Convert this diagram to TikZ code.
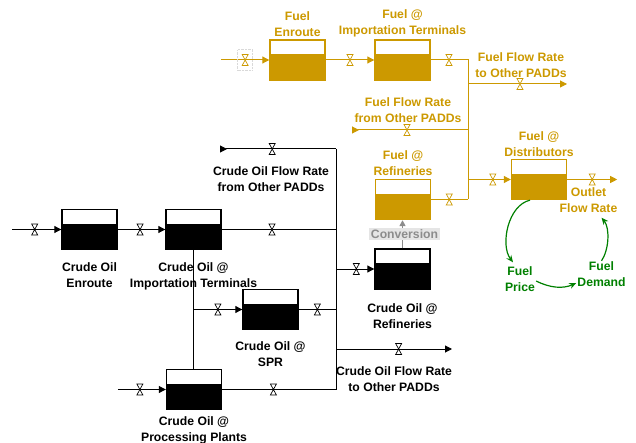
\documentclass[tikz,border=0pt]{standalone}
\usepackage{fontspec}
\setmainfont{Liberation Sans}
\usetikzlibrary{arrows.meta,positioning}
\definecolor{fuel}{HTML}{CC9900}
\definecolor{crude}{HTML}{000000}
\definecolor{loop}{HTML}{008000}
\definecolor{conv}{HTML}{8C8C8C}
\tikzset{
  stock/.style={draw=#1,fill=#1,line width=1.4pt,minimum width=55pt,minimum height=40pt,inner sep=0pt,
                path picture={\fill[white] (path picture bounding box.north west) rectangle
                  ([yshift=-14.3pt]path picture bounding box.north east);}},
  stock/.default=crude,
  flow/.style={draw=#1,line width=1pt,-{Triangle[length=7pt,width=7pt]}},
  flow/.default=crude,
  pipe/.style={draw=#1,line width=1pt},
  pipe/.default=crude,
  inflow/.style={draw=#1,line width=1pt,{Triangle[length=7pt,width=7pt,reversed]}-},
  inflow/.default=crude,
  lbl/.style={text=#1,align=center,inner sep=1pt},
  lbl/.default=crude,
  link/.style={draw=loop,line width=1.2pt,-{Stealth[length=7pt,width=6pt]}},
  valve/.pic={\filldraw[fill=white,line width=0.7pt,line join=miter] (-3,-5.5) -- (3,-5.5) -- (-3,5.5) -- (3,5.5) -- cycle;},
}
\begin{document}
\begin{tikzpicture}[x=1pt,y=-1pt,font=\bfseries\fontsize{12.2}{16}\selectfont,
   cloudbox/.style={draw=black!15,densely dotted,minimum width=15pt,minimum height=21pt,inner sep=0pt},
   convlbl/.style={fill=black!10,text=conv,inner sep=1.5pt,xshift=2pt}]
  \useasboundingbox (0,0) rectangle (636,443);
  \node[stock=fuel] (fen) at (297.5,60) {};
  \node[stock=fuel] (fimp) at (402.5,60) {};
  \node[stock=fuel] (fref) at (403,199.5) {};
  \node[stock=fuel] (fdis) at (539,179.5) {};
  \node[stock] (cen) at (89.5,229.5) {};
  \node[stock] (cimp) at (193.5,229.5) {};
  \node[stock] (cspr) at (270.5,309.5) {};
  \node[stock] (cref) at (402.5,269) {};
  \node[stock] (cpp) at (194,389.5) {};
  \node[lbl=fuel,above=1pt of fen] (fenl) {Fuel\\Enroute};
  \node[lbl=fuel,above=1pt of fimp] (fimpl) {Fuel @\\Importation Terminals};
  \node[lbl=fuel,above=2pt of fref] (frefl) {Fuel @\\Refineries};
  \node[lbl=fuel,above=0.5pt of fdis] (fdisl) {Fuel @\\Distributors};
  \node[lbl,below=11.5pt of cen] (cenl) {Crude Oil\\Enroute};
  \node[lbl,below=11.5pt of cimp] (cimpl) {Crude Oil @\\Importation Terminals};
  \node[lbl,below=10.5pt of cspr] (csprl) {Crude Oil @\\SPR};
  \node[lbl,below=12.5pt of cref] (crefl) {Crude Oil @\\Refineries};
  \node[lbl,below=5.5pt of cpp] (cppl) {Crude Oil @\\Processing Plants};
  \node[lbl=fuel] (foutl) at (521,65) {Fuel Flow Rate\\to Other PADDs};
  \node[lbl=fuel] (finl) at (408,110) {Fuel Flow Rate\\from Other PADDs};
  \node[lbl=fuel] (outlet) at (588.5,200) {Outlet\\Flow Rate};
  \node[lbl] (cinl) at (271,179) {Crude Oil Flow Rate\\from Other PADDs};
  \node[lbl] (coutl) at (394,379) {Crude Oil Flow Rate\\to Other PADDs};
  \node[lbl=loop] (price) at (520,279) {Fuel\\Price};
  \node[lbl=loop] (demand) at (601.5,274.5) {Fuel\\Demand};
  \coordinate (fsrc) at (221,60);
  \coordinate (ftop) at (468,60);
  \coordinate (fbot) at (468,199.5);
  \coordinate (fout) at (567,84);
  \coordinate (fin) at (352,130);
  \coordinate (fsink) at ([xshift=50pt]fdis.east);
  \coordinate (csrc) at (12,229.5);
  \coordinate (ctop) at (336,149);
  \coordinate (cbot) at (ctop |- cpp);
  \coordinate (cin) at (220,149);
  \coordinate (cout) at (452,349);
  \coordinate (cpsrc) at ([xshift=-48pt]cpp.west);
  \draw[flow=fuel] (fsrc) -- coordinate[pos=.5] (fv1) (fen);
  \draw[flow=fuel] (fen) -- coordinate[pos=.5] (fv2) (fimp);
  \draw[pipe=fuel] (fimp) -- coordinate[pos=.49] (fv3) (ftop) -- (fbot);
  \draw[pipe=fuel] (fref) -- coordinate[pos=.49] (fv4) (fbot);
  \draw[flow=fuel] (ftop |- fout) -- coordinate[pos=.525] (fv5) (fout);
  \draw[inflow=fuel] (fin) -- coordinate[pos=.474] (fv6) (fin -| ftop);
  \draw[flow=fuel] (ftop |- fdis) -- coordinate[pos=.58] (fv7) (fdis);
  \draw[flow=fuel] (fdis) -- coordinate[pos=.5] (fv8) (fsink);
  \draw[flow] (csrc) -- coordinate[pos=.46] (cv1) (cen);
  \draw[flow] (cen) -- coordinate[pos=.47] (cv2) (cimp);
  \draw[pipe] (cimp) -- coordinate[pos=.44] (cv3) (cimp -| ctop);
  \draw[inflow] (cin) -- coordinate[pos=.45] (cv4) (ctop);
  \draw[pipe] (ctop) -- (cbot);
  \draw[flow] (ctop |- cref) -- coordinate[pos=.53] (cv5) (cref);
  \draw[flow] (ctop |- cout) -- coordinate[pos=.54] (cv6) (cout);
  \draw[pipe] (cspr) -- coordinate[pos=.5] (cv7) (cspr -| ctop);
  \draw[pipe] (cpp) -- coordinate[pos=.45] (cv8) (cbot);
  \draw[pipe] (cimp.south) -- (cimp.south |- cpp.north);
  \draw[flow] (cimp.south |- cspr) -- coordinate[pos=.5] (cv9) (cspr);
  \draw[flow] (cpsrc) -- coordinate[pos=.46] (cv10) (cpp);
  \node[cloudbox] (fcloud) at (fv1) {};
  \foreach \i in {1,...,8} \pic[fuel] at (fv\i) {valve};
  \foreach \i in {1,...,10} \pic[crude] at (cv\i) {valve};
  \draw[conv,line width=1.5pt,-{Triangle[length=6pt,width=6pt]}] (cref.north) -- node[convlbl] (convl) {Conversion} (cref.north |- fref.south);
  \draw[link] ([xshift=-9pt]fdis.south) .. controls (508,205) and (500,245) .. ([xshift=-7pt,yshift=3pt]price.north);
  \draw[link] ([yshift=-2pt]price.east) .. controls (550,288) and (563,289) .. ([yshift=-8.5pt]demand.west);
  \draw[link] (demand.north) .. controls (609,250) and (610,228) .. ([xshift=13pt,yshift=-4pt]outlet.south);
\end{tikzpicture}
\end{document}
